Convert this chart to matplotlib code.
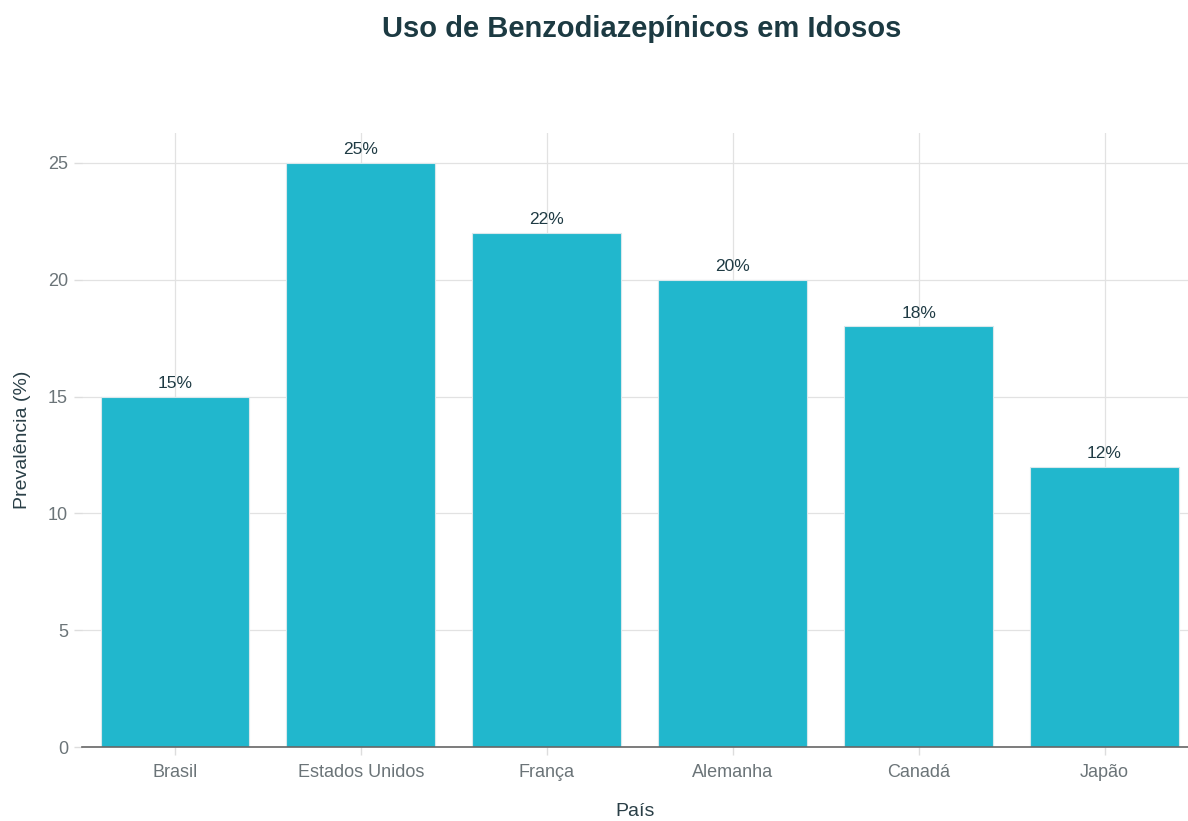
import matplotlib.pyplot as plt

paises = ['Brasil', 'Estados Unidos', 'França', 'Alemanha', 'Canadá', 'Japão']
prevalencia = [15, 25, 22, 20, 18, 12]

plt.rcParams['font.family'] = ['Liberation Sans', 'DejaVu Sans']

fig = plt.figure(figsize=(11.88, 8.21), dpi=100)
ax = fig.add_axes([0.069, 0.0901, 0.931, 0.748])

x = range(len(paises))
bars = ax.bar(x, prevalencia, width=0.8, color='#21B7CD', edgecolor='#d8e8ec',
              linewidth=0.8, zorder=3)
for xi, v in zip(x, prevalencia):
    ax.text(xi, v + 0.25, '%d%%' % v, ha='center', va='bottom', fontsize=12.5,
            color='#1f3b44', zorder=4)

ax.set_xlim(-0.5, 5.449)
ax.set_ylim(0, 26.28)
ax.set_xticks(list(x))
ax.set_xticklabels(paises)
ax.set_yticks([0, 5, 10, 15, 20, 25])
ax.grid(True, color='#e2e2e2', linewidth=0.9, zorder=0)

for s in ['top', 'right', 'left']:
    ax.spines[s].set_visible(False)
ax.spines['bottom'].set_color('#666666')
ax.spines['bottom'].set_linewidth(1.2)
ax.spines['bottom'].set_zorder(5)

ax.tick_params(axis='both', colors='#dddddd', labelcolor='#6b7478', labelsize=13,
               length=6, width=1)
ax.tick_params(axis='x', pad=6)
ax.tick_params(axis='y', pad=4)

ax.set_xlabel('País', fontsize=14, color='#2a3f47', labelpad=16)
ax.set_ylabel('Prevalência (%)', fontsize=14, color='#2a3f47', labelpad=12)

fig.text(0.54, 0.965, 'Uso de Benzodiazepínicos em Idosos', ha='center', va='center',
         fontsize=21, fontweight='bold', color='#1c3a42')

fig.savefig('out.png', dpi=100)
